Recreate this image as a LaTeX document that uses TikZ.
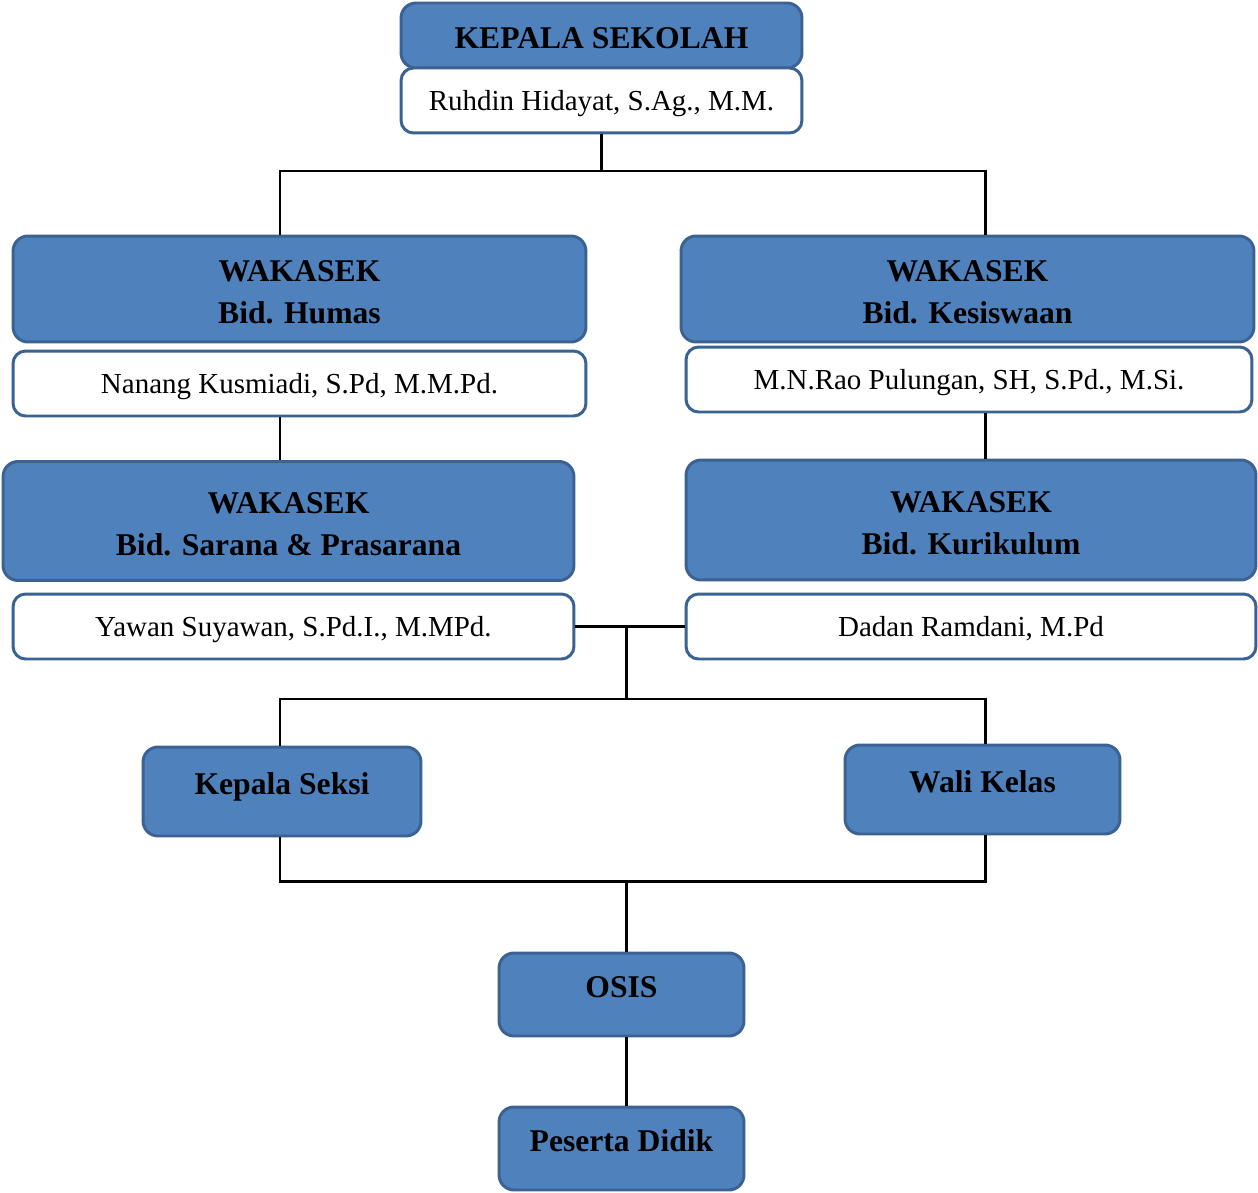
\documentclass[tikz,border=0pt]{standalone}
\usepackage{fontspec}
\setmainfont{Liberation Serif}
\definecolor{boxblue}{HTML}{4F81BD}
\definecolor{boxedge}{HTML}{3A6393}
\tikzset{
  headbox/.style={draw=boxedge, fill=boxblue, line width=1.7pt, rounded corners=0.3cm,
    align=center, font=\fontsize{18}{23.8}\selectfont\bfseries, inner sep=0pt},
  titlebox/.style={headbox, text height=15pt},
  wakabox/.style={headbox, text height=39pt},
  namebox/.style={draw=boxedge, fill=white, line width=1.7pt, rounded corners=0.25cm,
    align=center, font=\fontsize{16.5}{20}\selectfont, inner sep=0pt, minimum height=1.3cm,
    text height=12pt, text depth=1pt},
  smallbox/.style={headbox, text height=15pt, text depth=0.42cm},
  link/.style={line width=1.7pt, black}
}
\begin{document}
\begin{tikzpicture}[x=0.02cm, y=-0.02cm]
  \useasboundingbox (0,0) rectangle (1258,1193);

  % kepala sekolah
  \node[titlebox, minimum width=8.02cm, minimum height=1.3cm] (kepsek) at (601.5,35.5) {KEPALA SEKOLAH};
  \node[namebox, minimum width=8.02cm] (kepsekname) at (601.5,100.5) {Ruhdin Hidayat, S.Ag., M.M.};

  % wakasek
  \node[wakabox, minimum width=11.46cm, minimum height=2.12cm] (humas) at (299.5,289) {WAKASEK\\Bid. Humas};
  \node[namebox, minimum width=11.46cm] (humasname) at (299.5,383.5) {Nanang Kusmiadi, S.Pd, M.M.Pd.};
  \node[wakabox, minimum width=11.46cm, minimum height=2.12cm] (kesiswaan) at (967.5,289) {WAKASEK\\Bid. Kesiswaan};
  \node[namebox, minimum width=11.32cm] (kesiswaanname) at (969,379.5) {M.N.Rao Pulungan, SH, S.Pd., M.Si.};
  \node[wakabox, minimum width=11.42cm, minimum height=2.38cm] (sarana) at (288.5,521) {WAKASEK\\Bid. Sarana \& Prasarana};
  \node[namebox, minimum width=11.22cm] (sarananame) at (293.5,626.5) {Yawan Suyawan, S.Pd.I., M.MPd.};
  \node[wakabox, minimum width=11.4cm, minimum height=2.4cm] (kurikulum) at (971,520) {WAKASEK\\Bid. Kurikulum};
  \node[namebox, minimum width=11.4cm] (kurikulumname) at (971,626.5) {Dadan Ramdani, M.Pd};

  % bawah
  \node[smallbox, minimum width=5.56cm, minimum height=1.78cm] (seksi) at (282,791.5) {Kepala Seksi};
  \node[smallbox, minimum width=5.5cm, minimum height=1.78cm] (wali) at (982.5,789.5) {Wali Kelas};
  \node[smallbox, minimum width=4.9cm, minimum height=1.66cm] (osis) at (621.5,994.5) {OSIS};
  \node[smallbox, minimum width=4.9cm, minimum height=1.66cm] (peserta) at (621.5,1148.5) {Peserta Didik};

  \coordinate (top) at (601.5,171);
  \coordinate (topL) at (280,171);
  \coordinate (topR) at (985,171);
  \coordinate (mid) at (626,627);
  \coordinate (split) at (626,699);
  \coordinate (splitL) at (280,699);
  \coordinate (splitR) at (985,699);
  \coordinate (join) at (626,881);
  \coordinate (joinL) at (280,881);
  \coordinate (joinR) at (985,881);

  \draw[link] (kepsekname.south) -- (top);
  \draw[link] (topL |- humas.north) -- (topL) -- (topR) -- (topR |- kesiswaan.north);
  \draw[link] (topL |- humasname.south) -- (topL |- sarana.north);
  \draw[link] (topR |- kesiswaanname.south) -- (topR |- kurikulum.north);
  \draw[link] (sarananame.east) -- (kurikulumname.west);
  \draw[link] (mid) -- (split);
  \draw[link] (splitL |- seksi.north) -- (splitL) -- (splitR) -- (splitR |- wali.north);
  \draw[link] (joinL |- seksi.south) -- (joinL) -- (joinR) -- (joinR |- wali.south);
  \draw[link] (join) -- (join |- osis.north);
  \draw[link] (join |- osis.south) -- (join |- peserta.north);
\end{tikzpicture}
\end{document}
